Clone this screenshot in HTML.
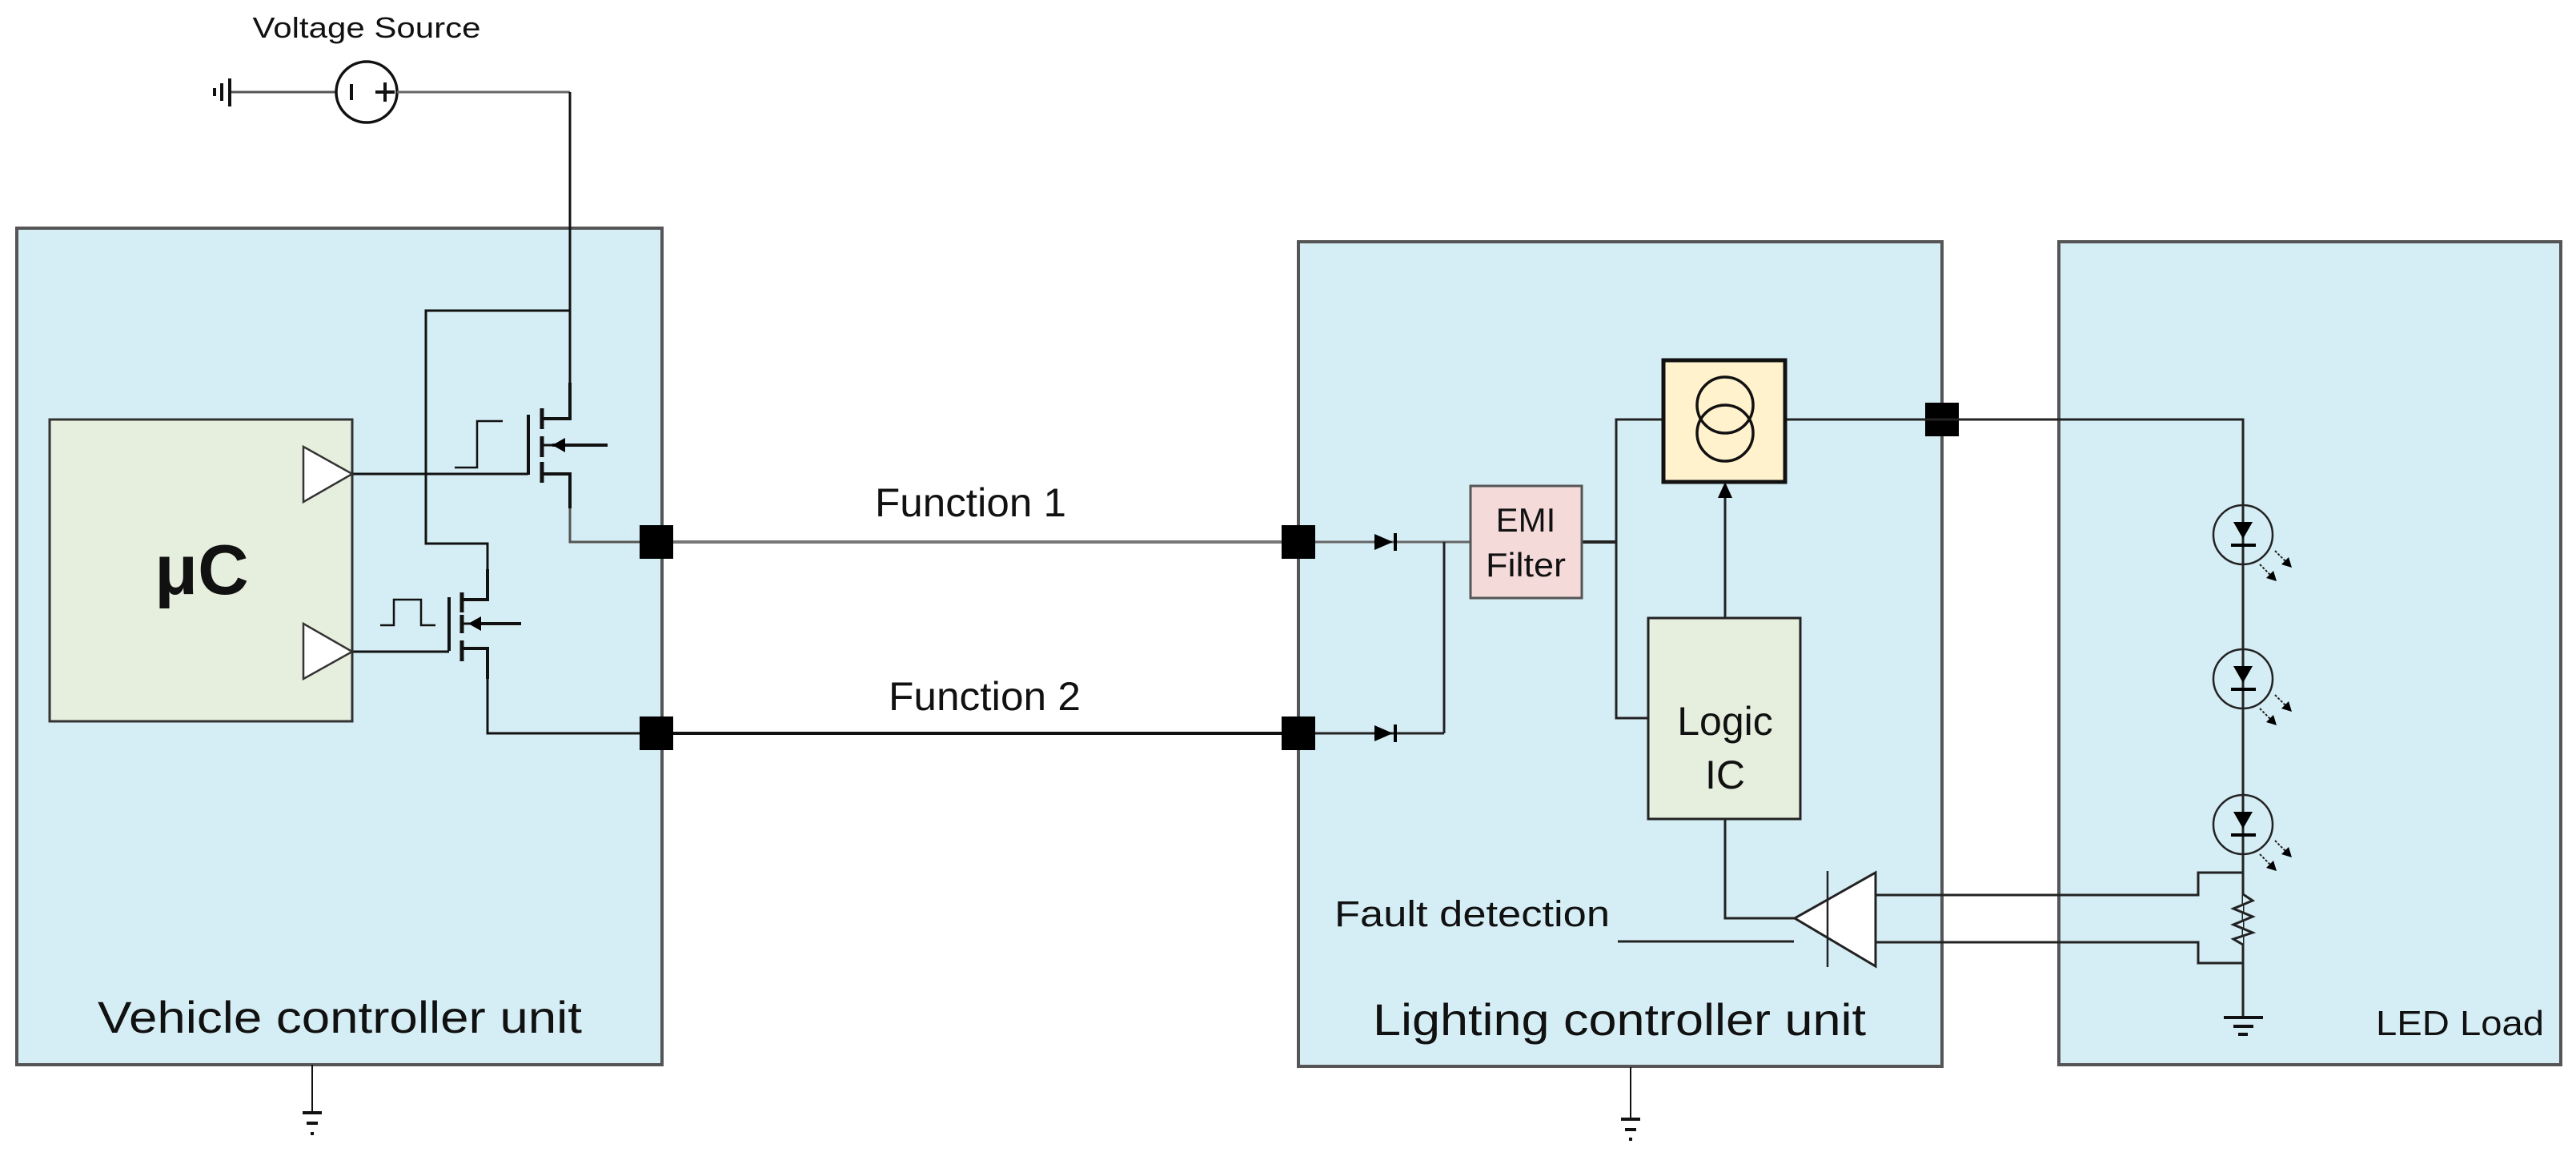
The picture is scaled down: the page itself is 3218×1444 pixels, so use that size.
<!DOCTYPE html>
<html><head><meta charset="utf-8"><style>html,body{margin:0;padding:0;background:#fff}svg{display:block}</style></head>
<body>
<svg width="3218" height="1444" viewBox="0 0 3218 1444" xmlns="http://www.w3.org/2000/svg" font-family="Liberation Sans, sans-serif">
<!-- boxes -->
<rect x="21" y="285" width="806" height="1045" fill="#d5edf4" stroke="#555" stroke-width="4"/>
<rect x="1622" y="302" width="804" height="1030" fill="#d5edf4" stroke="#555" stroke-width="4"/>
<rect x="2572" y="302" width="627" height="1028" fill="#d5edf4" stroke="#555" stroke-width="4"/>
<rect x="62" y="524" width="378" height="377" fill="#e6eedd" stroke="#333" stroke-width="3"/>

<g fill="none" stroke="#111" stroke-width="3">
<!-- voltage source -->
<line x1="287" y1="115" x2="420" y2="115" stroke="#555"/>
<line x1="420" y1="115" x2="496" y2="115" stroke="#111"/>
<circle cx="458" cy="115" r="38" fill="#fff" stroke-width="3.5"/>
<line x1="496" y1="115" x2="712" y2="115" stroke="#666"/>
<line x1="287" y1="98" x2="287" y2="133" stroke-width="4"/>
<line x1="277" y1="104" x2="277" y2="126" stroke-width="4"/>
<line x1="268" y1="110" x2="268" y2="120" stroke-width="4"/>
<line x1="439" y1="105" x2="439" y2="125" stroke-width="4"/>
<line x1="481" y1="103" x2="481" y2="127" stroke-width="4"/>
<line x1="469" y1="115" x2="493" y2="115" stroke-width="4"/>
<line x1="712" y1="115" x2="712" y2="523"/>
<!-- loop -->
<polyline points="712,388 532,388 532,679 609,679 609,749"/>
<!-- upper mosfet -->
<polyline points="712,478 712,523 676,523" stroke-width="4"/>
<line x1="677" y1="510" x2="677" y2="536" stroke-width="5"/>
<line x1="677" y1="545" x2="677" y2="571" stroke-width="5"/>
<line x1="677" y1="577" x2="677" y2="603" stroke-width="5"/>
<line x1="660" y1="518" x2="660" y2="593" stroke-width="4"/>
<line x1="440" y1="592" x2="660" y2="592"/>
<polyline points="677,592 712,592 712,635" stroke-width="4"/>
<polyline points="712,635 712,677 820,677" stroke="#555"/>
<line x1="759" y1="556" x2="690" y2="556" stroke-width="4"/>
<line x1="677" y1="556" x2="712" y2="556" stroke-width="3"/>
<polyline points="568,584 596,584 596,526 628,526" stroke-width="2.5"/>
<!-- lower mosfet -->
<polyline points="609,711 609,749 577,749" stroke-width="4"/>
<line x1="577" y1="740" x2="577" y2="765" stroke-width="5"/>
<line x1="577" y1="768" x2="577" y2="791" stroke-width="5"/>
<line x1="577" y1="800" x2="577" y2="826" stroke-width="5"/>
<line x1="561" y1="746" x2="561" y2="813" stroke-width="4"/>
<line x1="440" y1="814" x2="561" y2="814"/>
<polyline points="577,810 609,810 609,848" stroke-width="4"/>
<polyline points="609,848 609,916 820,916"/>
<line x1="651" y1="779" x2="595" y2="779" stroke-width="4"/>
<line x1="577" y1="779" x2="610" y2="779"/>
<polyline points="475,781 492,781 492,749 526,749 526,781 544,781" stroke-width="2.5"/>
<!-- function lines -->
<line x1="820" y1="677" x2="1622" y2="677" stroke="#777" stroke-width="4"/>
<line x1="820" y1="916" x2="1622" y2="916" stroke-width="4"/>
<!-- grounds -->
<line x1="390" y1="1330" x2="390" y2="1390" stroke-width="2"/>
<line x1="2037" y1="1333" x2="2037" y2="1398" stroke-width="2"/>
</g>
<g stroke="#111" stroke-width="4">
<line x1="378" y1="1390" x2="402" y2="1390"/><line x1="383" y1="1403" x2="397" y2="1403"/><line x1="388" y1="1416" x2="392" y2="1416"/>
<line x1="2025" y1="1398" x2="2049" y2="1398"/><line x1="2030" y1="1411" x2="2044" y2="1411"/><line x1="2035" y1="1423" x2="2039" y2="1423"/>
</g>
<!-- uC triangles -->
<polygon points="379,558 440,592 379,627" fill="#fff" stroke="#333" stroke-width="2.5"/>
<polygon points="379,779 440,814 379,848" fill="#fff" stroke="#333" stroke-width="2.5"/>
<polygon points="690,556 706,547 706,565" fill="#000"/>
<polygon points="585,779 601,770 601,788" fill="#000"/>
<!-- pads -->
<rect x="799" y="656" width="42" height="42" fill="#000"/>
<rect x="799" y="895" width="42" height="42" fill="#000"/>
<rect x="1601" y="656" width="42" height="42" fill="#000"/>
<rect x="1601" y="895" width="42" height="42" fill="#000"/>
<rect x="2405" y="503" width="42" height="42" fill="#000"/>

<!-- LCU wiring -->
<g fill="none" stroke="#222" stroke-width="3">
<line x1="1643" y1="677" x2="1837" y2="677" stroke="#666"/>
<line x1="1643" y1="916" x2="1804" y2="916"/>
<line x1="1804" y1="677" x2="1804" y2="916"/>
<line x1="1976" y1="677" x2="2019" y2="677" stroke-width="4"/>
<polyline points="2078,524 2019,524 2019,897 2059,897"/>
<line x1="2230" y1="524" x2="2426" y2="524"/>
<polyline points="2426,524 2802,524 2802,1271"/>
<line x1="2155" y1="772" x2="2155" y2="612"/>
<polyline points="2155,1023 2155,1147 2242,1147"/>
<line x1="2021" y1="1176" x2="2241" y2="1176"/>
<polyline points="2343,1118 2746,1118 2746,1090 2802,1090" />
<polyline points="2343,1177 2746,1177 2746,1203 2802,1203"/>
</g>
<polygon points="2155,602 2146,622 2164,622" fill="#000"/>
<polygon points="1717,667 1740,677 1717,687" fill="#000"/><line x1="1743" y1="666" x2="1743" y2="688" stroke="#000" stroke-width="4"/>
<polygon points="1717,906 1740,916 1717,926" fill="#000"/><line x1="1743" y1="905" x2="1743" y2="927" stroke="#000" stroke-width="4"/>
<rect x="1837" y="607" width="139" height="140" fill="#f5dada" stroke="#555" stroke-width="3"/>
<rect x="2078" y="450" width="152" height="152" fill="#fff2cc" stroke="#111" stroke-width="5"/>
<circle cx="2155" cy="506" r="35" fill="none" stroke="#111" stroke-width="3.5"/>
<circle cx="2155" cy="541" r="35" fill="none" stroke="#111" stroke-width="3.5"/>
<rect x="2059" y="772" width="190" height="251" fill="#e6eedd" stroke="#222" stroke-width="3"/>
<!-- comparator -->
<polygon points="2242,1147 2343,1090 2343,1207" fill="#fff" stroke="#222" stroke-width="3"/>
<line x1="2283" y1="1088" x2="2283" y2="1208" stroke="#222" stroke-width="2.5"/>
<!-- resistor -->
<polyline points="2802,1117 2814,1125 2790,1135 2814,1145 2790,1155 2814,1165 2790,1173 2802,1180" fill="#d5edf4" stroke="#222" stroke-width="3"/>
<g stroke="#111" stroke-width="4">
<line x1="2778" y1="1271" x2="2827" y2="1271"/><line x1="2790" y1="1282" x2="2815" y2="1282"/><line x1="2796" y1="1292" x2="2808" y2="1292"/>
</g>
<!-- LEDs -->
<g id="led">
<circle cx="2802" cy="668" r="37" fill="none" stroke="#222" stroke-width="2.5"/>
<polygon points="2790,652 2814,652 2802,673" fill="#000"/>
<line x1="2787" y1="681" x2="2818" y2="681" stroke="#000" stroke-width="4"/>
<line x1="2842" y1="688" x2="2858" y2="704" stroke="#222" stroke-width="2" stroke-dasharray="3,2"/>
<polygon points="2863,709 2850,705 2859,696" fill="#000"/>
<line x1="2823" y1="705" x2="2839" y2="721" stroke="#222" stroke-width="2" stroke-dasharray="3,2"/>
<polygon points="2844,726 2831,722 2840,713" fill="#000"/>
</g>
<use href="#led" transform="translate(0,180)"/>
<use href="#led" transform="translate(0,362)"/>

<!-- text -->
<g fill="#111">
<text x="458" y="47" font-size="36" text-anchor="middle" textLength="285" lengthAdjust="spacingAndGlyphs">Voltage Source</text>
<text x="252" y="742" font-size="88" font-weight="bold" text-anchor="middle">μC</text>
<text x="1093" y="645" font-size="50" textLength="239" lengthAdjust="spacingAndGlyphs">Function 1</text>
<text x="1110" y="887" font-size="50" textLength="240" lengthAdjust="spacingAndGlyphs">Function 2</text>
<text x="1906" y="664" font-size="42" text-anchor="middle">EMI</text>
<text x="1906" y="720" font-size="42" text-anchor="middle" textLength="100" lengthAdjust="spacingAndGlyphs">Filter</text>
<text x="2155" y="918" font-size="50" text-anchor="middle">Logic</text>
<text x="2155" y="985" font-size="50" text-anchor="middle">IC</text>
<text x="1667" y="1157" font-size="45" textLength="344" lengthAdjust="spacingAndGlyphs">Fault detection</text>
<text x="122" y="1290" font-size="56" textLength="605" lengthAdjust="spacingAndGlyphs">Vehicle controller unit</text>
<text x="1715" y="1293" font-size="56" textLength="616" lengthAdjust="spacingAndGlyphs">Lighting controller unit</text>
<text x="3178" y="1293" font-size="44" text-anchor="end" textLength="210" lengthAdjust="spacingAndGlyphs">LED Load</text>
</g>
</svg>
</body></html>
